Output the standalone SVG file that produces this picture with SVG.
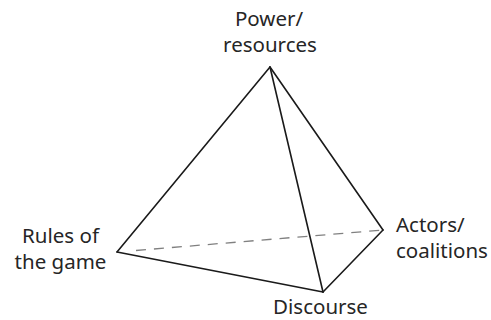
<svg xmlns="http://www.w3.org/2000/svg" width="491" height="320" viewBox="0 0 491 320">
  <style>
    .edge { stroke: #1a1a1a; stroke-width: 1.6; fill: none; stroke-linecap: round; stroke-linejoin: round; }
    .hidden { stroke: #808080; stroke-width: 1.3; fill: none; stroke-dasharray: 10 8; }
    .label { font-family: "Noto Sans", "Open Sans", sans-serif; font-size: 20.5px; fill: #262626; }
    .mid { text-anchor: middle; }
  </style>
  <rect width="491" height="320" fill="#ffffff"/>

  <!-- tetrahedron edges -->
  <g id="connectors">
    <line class="hidden" x1="136" y1="250.5" x2="383" y2="230"/>
    <line class="edge" x1="270" y1="67" x2="117" y2="252"/>
    <line class="edge" x1="270" y1="67" x2="323" y2="292"/>
    <line class="edge" x1="270" y1="67" x2="383" y2="230"/>
    <line class="edge" x1="117" y1="252" x2="323" y2="292"/>
    <line class="edge" x1="323" y1="292" x2="383" y2="230"/>
  </g>

  <!-- vertex labels -->
  <g id="power">
    <text class="label mid" x="269" y="26">Power/</text>
    <text class="label mid" x="270" y="52">resources</text>
  </g>
  <g id="rules">
    <text class="label mid" x="60.5" y="243">Rules of</text>
    <text class="label mid" x="60.5" y="269">the game</text>
  </g>
  <g id="actors">
    <text class="label" x="396" y="232">Actors/</text>
    <text class="label" x="396" y="258">coalitions</text>
  </g>
  <g id="discourse">
    <text class="label mid" x="320.5" y="314">Discourse</text>
  </g>
</svg>
